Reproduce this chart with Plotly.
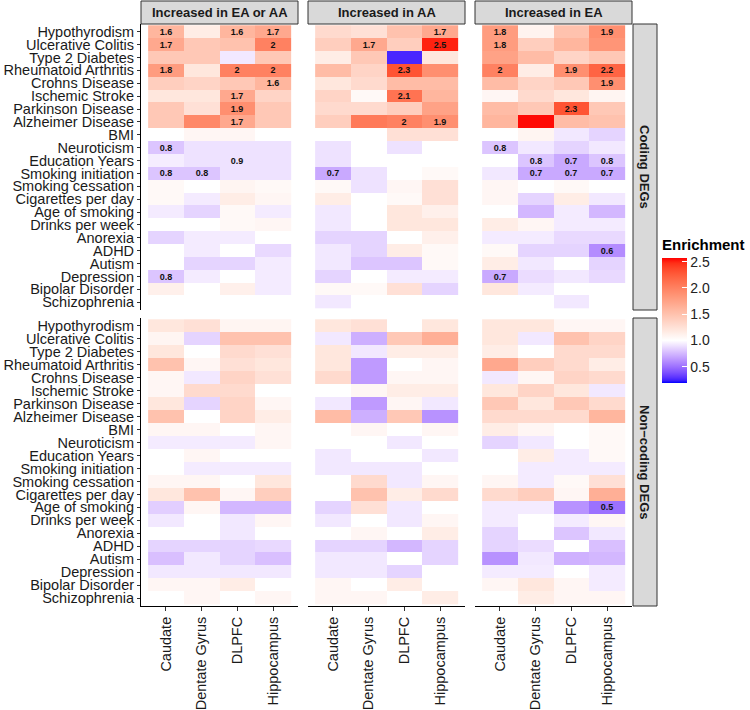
import numpy as np
import plotly.graph_objects as go

traits = ["Hypothyrodism", "Ulcerative Colitis", "Type 2 Diabetes", "Rheumatoid Arthritis",
          "Crohns Disease", "Ischemic Stroke", "Parkinson Disease", "Alzheimer Disease", "BMI",
          "Neuroticism", "Education Years", "Smoking initiation", "Smoking cessation",
          "Cigarettes per day", "Age of smoking", "Drinks per week", "Anorexia", "ADHD",
          "Autism", "Depression", "Bipolar Disorder", "Schizophrenia"]
tissues = ["Caudate", "Dentate Gyrus", "DLPFC", "Hippocampus"]
comparisons = ["Increased in EA or AA", "Increased in AA", "Increased in EA"]
deg_types = ["Coding DEGs", "Non\u2212coding DEGs"]

# Enrichment values (rows = traits, cols = tissues)
coding_ea_or_aa = [
    [1.6, 1.15, 1.6, 1.7], [1.7, 1.45, 1.5, 2.0], [1.45, 1.45, 0.92, 1.45], [1.8, 1.2, 2.0, 2.0],
    [1.4, 1.35, 1.45, 1.6], [1.2, 1.2, 1.7, 1.35], [1.45, 1.25, 1.9, 1.45], [1.45, 1.95, 1.7, 1.45],
    [1.0, 1.07, 1.07, 1.0], [0.8, 0.9, 0.9, 0.9], [0.94, 0.9, 0.9, 0.9], [0.8, 0.8, 0.9, 0.9],
    [1.05, 1.0, 1.08, 1.05], [1.05, 0.93, 1.15, 1.07], [0.93, 0.85, 1.05, 0.93], [1.0, 1.0, 1.05, 1.07],
    [0.85, 0.93, 0.93, 1.0], [1.0, 0.93, 1.0, 0.87], [1.0, 0.85, 0.85, 0.93], [0.8, 0.93, 1.0, 0.93],
    [1.12, 1.0, 1.12, 0.93], [1.0, 1.0, 1.0, 1.0]]
coding_aa = [
    [1.3, 1.25, 1.5, 1.7], [1.4, 1.7, 1.4, 2.5], [1.15, 1.45, 0.26, 1.2], [1.55, 1.35, 2.3, 1.9],
    [1.2, 1.3, 1.55, 1.55], [1.35, 1.05, 2.1, 1.6], [1.3, 1.3, 1.4, 1.75], [1.4, 2.05, 2.0, 1.9],
    [1.0, 1.0, 1.25, 1.25], [0.9, 1.0, 0.9, 1.0], [0.9, 1.0, 1.0, 1.0], [0.7, 0.9, 1.0, 1.05],
    [1.05, 0.9, 1.07, 1.25], [1.15, 1.0, 1.05, 1.25], [0.92, 1.0, 1.2, 1.12], [0.92, 1.0, 1.2, 1.2],
    [0.85, 0.85, 1.0, 1.12], [0.92, 0.85, 1.15, 1.05], [0.92, 0.8, 0.8, 1.05], [0.85, 1.0, 0.93, 0.93],
    [1.05, 1.05, 1.25, 0.85], [0.92, 1.0, 1.0, 1.0]]
coding_ea = [
    [1.8, 1.1, 1.5, 1.9], [1.8, 1.4, 1.6, 1.85], [1.75, 1.55, 1.35, 1.45], [2.0, 1.15, 1.9, 2.2],
    [1.55, 1.35, 1.45, 1.9], [1.07, 1.3, 1.2, 1.08], [1.55, 1.45, 2.3, 1.45], [1.6, 2.55, 1.55, 1.5],
    [1.0, 1.08, 0.92, 0.85], [0.8, 0.92, 0.85, 0.92], [1.0, 0.8, 0.7, 0.8], [0.92, 0.7, 0.7, 0.7],
    [1.07, 1.0, 1.05, 1.0], [1.07, 0.85, 1.15, 0.92], [1.0, 0.75, 0.93, 0.75], [1.15, 1.07, 0.93, 0.93],
    [0.93, 0.93, 0.87, 0.87], [1.05, 0.85, 0.85, 0.6], [1.15, 0.92, 1.0, 0.85], [0.7, 0.88, 0.92, 0.87],
    [1.2, 0.93, 1.0, 1.0], [1.0, 1.0, 0.92, 1.0]]
noncoding_ea_or_aa = [
    [1.2, 1.25, 1.08, 1.08], [1.08, 0.85, 1.5, 1.5], [1.2, 1.0, 1.3, 1.25], [1.5, 1.07, 1.25, 1.2],
    [1.07, 0.92, 1.35, 1.25], [1.07, 1.3, 1.3, 1.0], [1.2, 0.85, 1.35, 1.07], [1.5, 1.0, 1.35, 1.15],
    [1.07, 1.07, 1.0, 1.07], [0.93, 0.93, 0.93, 1.07], [1.0, 1.07, 1.0, 1.0], [1.0, 0.93, 0.93, 0.93],
    [1.07, 1.07, 1.0, 1.2], [1.2, 1.5, 1.07, 1.4], [0.83, 1.07, 0.75, 0.75], [0.92, 1.0, 0.92, 1.07],
    [1.0, 1.0, 0.92, 1.0], [0.85, 0.85, 0.85, 0.87], [0.78, 0.92, 0.85, 0.78], [0.92, 0.92, 0.92, 0.92],
    [1.07, 1.07, 1.15, 1.0], [1.0, 1.07, 1.0, 1.07]]
noncoding_aa = [
    [1.2, 1.25, 1.0, 1.2], [0.92, 0.72, 1.45, 1.65], [1.2, 0.92, 1.15, 1.15], [1.2, 0.65, 1.0, 1.07],
    [1.3, 0.65, 1.07, 1.07], [1.0, 1.07, 1.15, 1.15], [0.92, 0.65, 1.07, 0.92], [1.55, 0.72, 1.45, 0.62],
    [1.0, 1.07, 1.0, 1.07], [1.0, 1.0, 0.92, 1.0], [0.92, 1.0, 1.0, 0.92], [0.92, 0.92, 0.92, 1.0],
    [1.0, 1.3, 0.92, 1.07], [1.0, 1.5, 1.15, 1.3], [0.85, 1.25, 0.92, 1.0], [0.92, 1.0, 0.92, 1.07],
    [1.0, 1.07, 1.0, 1.15], [0.85, 0.85, 0.75, 0.85], [0.92, 0.92, 1.0, 0.85], [0.92, 0.92, 0.85, 1.0],
    [1.07, 1.0, 1.15, 1.0], [1.07, 1.07, 1.0, 1.15]]
noncoding_ea = [
    [1.2, 1.2, 1.07, 1.07], [1.2, 0.92, 1.5, 1.35], [1.15, 1.0, 1.3, 1.3], [1.7, 1.4, 1.3, 1.15],
    [0.92, 1.07, 1.35, 1.3], [1.2, 1.35, 1.2, 0.92], [1.45, 1.2, 1.45, 1.3], [1.3, 1.3, 1.3, 1.6],
    [1.15, 1.07, 1.0, 1.05], [0.85, 0.92, 1.0, 1.05], [1.0, 1.15, 0.93, 1.05], [1.0, 0.93, 0.93, 0.93],
    [1.07, 0.93, 1.05, 1.25], [1.3, 1.4, 1.07, 1.65], [0.93, 0.93, 0.62, 0.5], [0.93, 1.0, 0.93, 1.07],
    [0.85, 1.0, 0.8, 0.92], [0.85, 0.88, 1.0, 0.78], [0.62, 0.92, 0.73, 0.75], [0.93, 0.93, 1.0, 0.93],
    [1.07, 1.2, 1.07, 0.93], [1.0, 1.15, 1.07, 1.07]]

# Significant cells (labelled with their value)
sig_coding_ea_or_aa = [("Hypothyrodism", "Caudate"), ("Hypothyrodism", "DLPFC"), ("Hypothyrodism", "Hippocampus"),
                       ("Ulcerative Colitis", "Caudate"), ("Ulcerative Colitis", "Hippocampus"),
                       ("Rheumatoid Arthritis", "Caudate"), ("Rheumatoid Arthritis", "DLPFC"),
                       ("Rheumatoid Arthritis", "Hippocampus"), ("Crohns Disease", "Hippocampus"),
                       ("Ischemic Stroke", "DLPFC"), ("Parkinson Disease", "DLPFC"), ("Alzheimer Disease", "DLPFC"),
                       ("Neuroticism", "Caudate"), ("Education Years", "DLPFC"),
                       ("Smoking initiation", "Caudate"), ("Smoking initiation", "Dentate Gyrus"),
                       ("Depression", "Caudate")]
sig_coding_aa = [("Hypothyrodism", "Hippocampus"), ("Ulcerative Colitis", "Dentate Gyrus"),
                 ("Ulcerative Colitis", "Hippocampus"), ("Rheumatoid Arthritis", "DLPFC"),
                 ("Ischemic Stroke", "DLPFC"), ("Alzheimer Disease", "DLPFC"), ("Alzheimer Disease", "Hippocampus"),
                 ("Smoking initiation", "Caudate")]
sig_coding_ea = [("Hypothyrodism", "Caudate"), ("Hypothyrodism", "Hippocampus"), ("Ulcerative Colitis", "Caudate"),
                 ("Rheumatoid Arthritis", "Caudate"), ("Rheumatoid Arthritis", "DLPFC"),
                 ("Rheumatoid Arthritis", "Hippocampus"), ("Crohns Disease", "Hippocampus"),
                 ("Parkinson Disease", "DLPFC"), ("Neuroticism", "Caudate"),
                 ("Education Years", "Dentate Gyrus"), ("Education Years", "DLPFC"), ("Education Years", "Hippocampus"),
                 ("Smoking initiation", "Dentate Gyrus"), ("Smoking initiation", "DLPFC"),
                 ("Smoking initiation", "Hippocampus"), ("ADHD", "Hippocampus"), ("Depression", "Caudate")]
sig_noncoding_ea_or_aa = []
sig_noncoding_aa = []
sig_noncoding_ea = [("Age of smoking", "Hippocampus")]

panels = [
    (coding_ea_or_aa, sig_coding_ea_or_aa), (coding_aa, sig_coding_aa), (coding_ea, sig_coding_ea),
    (noncoding_ea_or_aa, sig_noncoding_ea_or_aa), (noncoding_aa, sig_noncoding_aa), (noncoding_ea, sig_noncoding_ea),
]

ZMIN, ZMAX = 0.19, 2.57


# ---- Lab-space colour ramp (as ggplot2 does) ----
def _srgb_to_lab(rgb):
    c = np.array(rgb, dtype=float) / 255.0
    lin = np.where(c <= 0.04045, c / 12.92, ((c + 0.055) / 1.055) ** 2.4)
    M = np.array([[0.4124564, 0.3575761, 0.1804375],
                  [0.2126729, 0.7151522, 0.0721750],
                  [0.0193339, 0.1191920, 0.9503041]])
    xyz = M @ lin / np.array([0.95047, 1.0, 1.08883])
    f = np.where(xyz > 216 / 24389, np.cbrt(xyz), (24389 / 27 * xyz + 16) / 116)
    return np.array([116 * f[1] - 16, 500 * (f[0] - f[1]), 200 * (f[1] - f[2])])


def _lab_to_srgb(lab):
    L, a, b = lab
    fy = (L + 16) / 116
    fx = fy + a / 500
    fz = fy - b / 200
    f = np.array([fx, fy, fz])
    xyz = np.where(f ** 3 > 216 / 24389, f ** 3, (116 * f - 16) / (24389 / 27))
    xyz = xyz * np.array([0.95047, 1.0, 1.08883])
    Minv = np.array([[3.2404542, -1.5371385, -0.4985314],
                     [-0.9692660, 1.8760108, 0.0415560],
                     [0.0556434, -0.2040259, 1.0572252]])
    lin = np.clip(Minv @ xyz, 0, 1)
    c = np.where(lin <= 0.0031308, 12.92 * lin, 1.055 * lin ** (1 / 2.4) - 0.055)
    c = np.clip(np.round(c * 255), 0, 255).astype(int)
    return "rgb(%d,%d,%d)" % tuple(c)


def _ramp(c1, c2, t):
    l1, l2 = _srgb_to_lab(c1), _srgb_to_lab(c2)
    return _lab_to_srgb(l1 + (l2 - l1) * t)


w = (1.0 - ZMIN) / (ZMAX - ZMIN)
N = 16
colorscale = []
for i in range(N + 1):
    t = i / N
    colorscale.append([t * w, _ramp((0, 0, 255), (255, 255, 255), t)])
for i in range(1, N + 1):
    t = i / N
    colorscale.append([w + t * (1 - w), _ramp((255, 255, 255), (255, 0, 0), t)])
colorscale[-1][0] = 1.0

FONT = "Liberation Sans, Arial, Helvetica, sans-serif"
W, H = 750, 710
X0 = [141, 308, 475]
X1 = [298, 465, 632]
Y0 = [24, 318]
Y1 = [310, 606]

fig = go.Figure()
layout = dict(width=W, height=H, margin=dict(l=0, r=0, t=0, b=0, autoexpand=False),
              paper_bgcolor="white", plot_bgcolor="white", font=dict(family=FONT, color="black"),
              shapes=[], annotations=[])


def fmt(v):
    s = "%.1f" % v
    return s[:-2] if s.endswith(".0") else s


for k, (vals, sig) in enumerate(panels):
    r, c = divmod(k, 3)
    z = np.array(vals, dtype=float)
    text = [["" for _ in tissues] for _ in traits]
    for (tr, ts) in sig:
        i, j = traits.index(tr), tissues.index(ts)
        text[i][j] = fmt(z[i, j])
    sx = "" if k == 0 else str(k + 1)
    fig.add_trace(go.Heatmap(
        z=z, x=list(range(len(tissues))), y=list(range(len(traits))),
        text=text, texttemplate="<b>%{text}</b>", textfont=dict(size=9, color="#111111", family=FONT),
        colorscale=colorscale, zmin=ZMIN, zmax=ZMAX,
        showscale=(k == 0), xaxis="x" + sx, yaxis="y" + sx,
        hovertemplate="%{z}<extra></extra>",
        colorbar=dict(
            title=dict(text="<b>Enrichment</b>", side="top", font=dict(size=15, family=FONT)),
            x=662 / W, xanchor="left", y=1 - 383 / H, yanchor="bottom",
            len=147, lenmode="pixels", thickness=25, thicknessmode="pixels",
            outlinewidth=0, xpad=0, ypad=0,
            tickvals=[0.5, 1.0, 1.5, 2.0, 2.5], ticktext=["0.5", "1.0", "1.5", "2.0", "2.5"],
            ticks="inside", ticklen=5, tickcolor="white", tickwidth=0.8,
            tickfont=dict(size=14, family=FONT, color="#222222"),
        ),
    ))
    layout["xaxis" + sx] = dict(
        domain=[X0[c] / W, X1[c] / W], range=[-0.7, 3.7], anchor="y" + sx,
        tickvals=list(range(4)), ticktext=tissues, tickangle=-90,
        showticklabels=(r == 1), ticks="outside" if r == 1 else "", ticklen=4, tickcolor="#333333",
        showline=(r == 1), linecolor="black", linewidth=1, showgrid=False, zeroline=False,
        tickfont=dict(size=14.5, family=FONT, color="#1a1a1a"), fixedrange=True, automargin=False)
    layout["yaxis" + sx] = dict(
        domain=[1 - Y1[r] / H, 1 - Y0[r] / H], range=[21.6, -0.6], anchor="x" + sx,
        tickvals=list(range(len(traits))), ticktext=traits,
        showticklabels=(c == 0), ticks="outside" if c == 0 else "", ticklen=3, tickcolor="#333333",
        showline=(c == 0), linecolor="black", linewidth=1, showgrid=False, zeroline=False,
        tickfont=dict(size=14.5, family=FONT, color="#1a1a1a"), fixedrange=True, automargin=False)

# column strips (top)
for c, lab in enumerate(comparisons):
    layout["shapes"].append(dict(type="rect", xref="paper", yref="paper",
                                 x0=X0[c] / W, x1=X1[c] / W, y0=1 - Y0[0] / H, y1=1 - 1 / H,
                                 fillcolor="#D9D9D9", line=dict(color="#333333", width=1)))
    layout["annotations"].append(dict(text="<b>%s</b>" % lab, xref="paper", yref="paper",
                                      x=(X0[c] + X1[c]) / 2 / W, y=1 - (Y0[0] + 1) / 2 / H,
                                      showarrow=False, font=dict(size=13, family=FONT, color="#1a1a1a"),
                                      xanchor="center", yanchor="middle"))
# row strips (right)
SX0, SX1 = 633, 657
for r, lab in enumerate(deg_types):
    layout["shapes"].append(dict(type="rect", xref="paper", yref="paper",
                                 x0=SX0 / W, x1=SX1 / W, y0=1 - Y1[r] / H, y1=1 - Y0[r] / H,
                                 fillcolor="#D9D9D9", line=dict(color="#333333", width=1)))
    layout["annotations"].append(dict(text="<b>%s</b>" % lab, xref="paper", yref="paper",
                                      x=(SX0 + SX1) / 2 / W, y=1 - (Y0[r] + Y1[r]) / 2 / H,
                                      showarrow=False, textangle=90,
                                      font=dict(size=13, family=FONT, color="#1a1a1a"),
                                      xanchor="center", yanchor="middle"))

fig.update_layout(**layout)
fig.write_html("out.html", config={"displayModeBar": False},
               post_script="document.body.style.margin='0';document.body.style.overflow='hidden';")
